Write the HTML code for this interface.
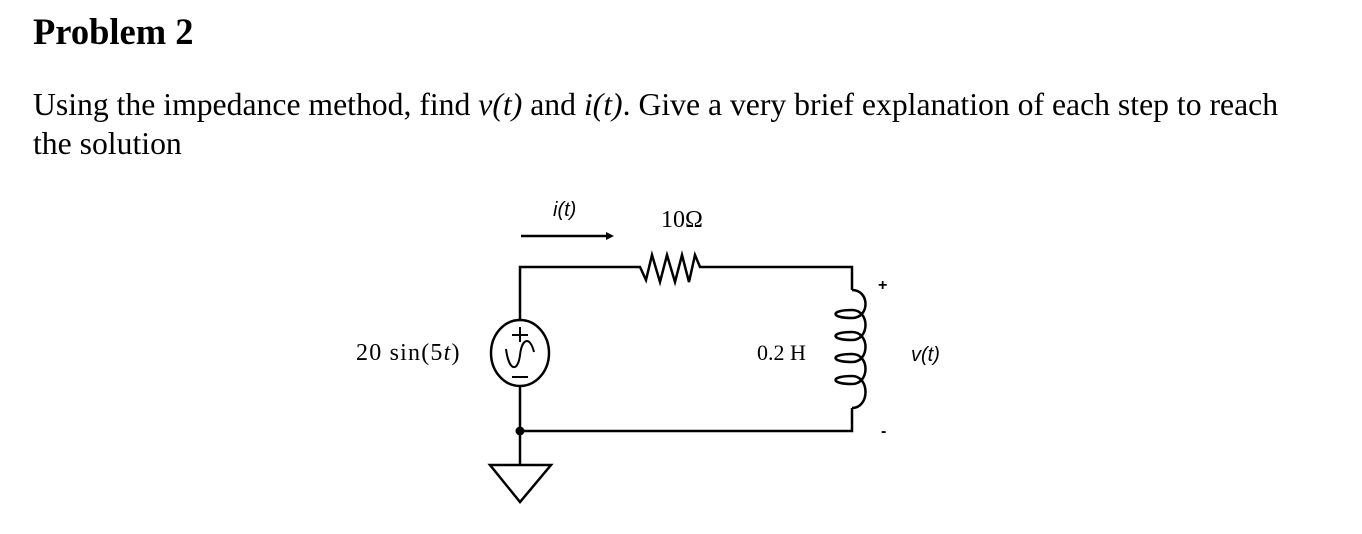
<!DOCTYPE html>
<html><head><style>
body{margin:0;width:1362px;height:534px;background:#fff;overflow:hidden;font-family:"Liberation Serif",serif;color:#000}
.t{position:absolute;white-space:nowrap}
</style></head><body>
<div class="t" style="left:33px;top:10px;font-size:36.5px;font-weight:bold">Problem 2</div>
<div class="t" style="left:33px;top:85px;font-size:31.7px;line-height:39px">Using the impedance method, find <i>v(t)</i> and <i>i(t)</i>. Give a very brief explanation of each step to reach<br>the solution</div>
<svg style="position:absolute;left:0;top:0" width="1362" height="534">
<g fill="none" stroke="#000" stroke-width="2.5">
<line x1="521" y1="236" x2="606" y2="236"/>
<polygon points="606,232 614,236 606,240" fill="#000" stroke="none"/>
<polyline points="520,321 520,267 640,267 646,280 652,255 660,282 667,255 675,282 682,255 689,282 695,255 700,267 852,267 852,290"/>
<path d="M852,290 C870,290 870,318 852,318 C830,318 830,310 852,310 C870,310 870,340 852,340 C830,340 830,332 852,332 C870,332 870,362 852,362 C830,362 830,354 852,354 C870,354 870,384 852,384 C830,384 830,376 852,376 C870,376 870,408 852,408"/>
<polyline points="852,408 852,431 520,431 520,386"/>
<line x1="520" y1="431" x2="520" y2="465"/>
<polygon points="490,465 551,465 520,502"/>
<ellipse cx="520" cy="353" rx="29" ry="33"/>
<path d="M506,349 C509,372 518,372 520,355 C522,338 530,336 534,352" stroke-width="2"/>
<line x1="520" y1="327" x2="520" y2="342" stroke-width="2"/>
<line x1="512" y1="335" x2="528" y2="335" stroke-width="2"/>
<line x1="512" y1="377" x2="528" y2="377" stroke-width="2"/>
</g>
<circle cx="520" cy="431" r="4.5" fill="#000"/>
<g font-family="Liberation Sans, sans-serif" font-size="20">
<text x="553" y="216" font-style="italic">i(t)</text>
<text x="911" y="361" font-style="italic">v(t)</text>
<text x="878" y="290" font-size="16" font-weight="bold">+</text>
<text x="881" y="436" font-size="16" font-weight="bold">-</text>
</g>
<g font-family="Liberation Serif, serif" font-size="24">
<text x="661" y="227">10Ω</text>
<text x="757" y="360" font-size="22">0.2 H</text>
<text x="356" y="360" letter-spacing="1.2">20 sin(5<tspan font-style="italic">t</tspan>)</text>
</g>
</svg>
</body></html>
